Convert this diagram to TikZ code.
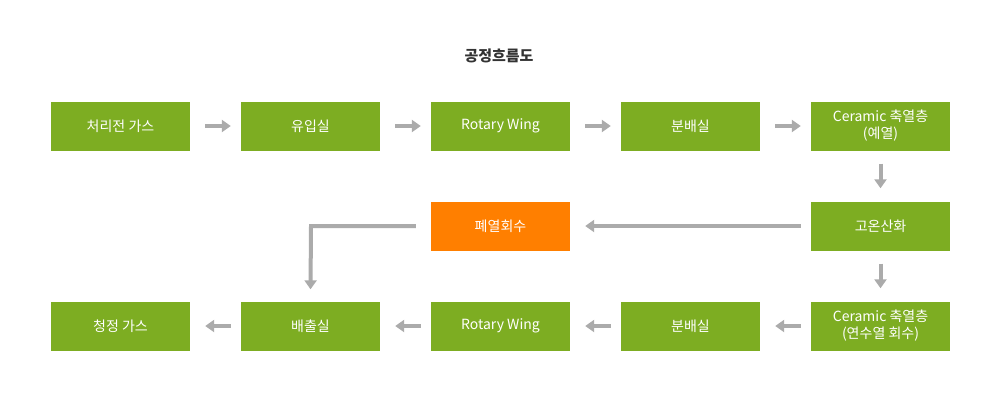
\documentclass[tikz,border=0pt]{standalone}
\usepackage{fontspec}
\setmainfont{Noto Sans CJK KR}
\usetikzlibrary{arrows.meta}
\definecolor{boxgreen}{HTML}{7DAD22}
\definecolor{boxorange}{HTML}{FF7F00}
\definecolor{arrgray}{HTML}{ABABAB}
\definecolor{titlegray}{HTML}{333333}
\tikzset{
  stepbox/.style={fill=boxgreen, draw=none, minimum width=139pt, minimum height=49pt, inner sep=0pt,
    text=white, font=\fontsize{14pt}{17pt}\selectfont, align=center},
  hotbox/.style={stepbox, fill=boxorange},
  flow/.style={draw=arrgray, line width=4pt, -{Triangle[length=9pt,width=12pt]}},
}
\begin{document}
\begin{tikzpicture}[x=1pt,y=-1pt]
\useasboundingbox (0,0) rectangle (1000,400);
\node[text=titlegray, font=\fontsize{15pt}{17pt}\selectfont\bfseries] (title) at (499,56) {공정흐름도};
% top row
\node[stepbox] (a1) at (120.5,126) {처리전 가스};
\node[stepbox] (a2) at (310.5,126) {유입실};
\node[stepbox] (a3) at (500.5,126) {Rotary Wing};
\node[stepbox] (a4) at (690.5,126) {분배실};
\node[stepbox] (a5) at (880.5,126) {Ceramic 축열층\\(예열)};
% middle row
\node[hotbox] (m1) at (500.5,226) {폐열회수};
\node[stepbox] (m2) at (880.5,226) {고온산화};
% bottom row
\node[stepbox] (b1) at (120.5,326) {청정 가스};
\node[stepbox] (b2) at (310.5,326) {배출실};
\node[stepbox] (b3) at (500.5,326) {Rotary Wing};
\node[stepbox] (b4) at (690.5,326) {분배실};
\node[stepbox] (b5) at (880.5,326) {Ceramic 축열층\\(연수열 회수)};
% arrows top
\draw[flow] ([xshift=15pt]a1.east) -- ([xshift=-10pt]a2.west);
\draw[flow] ([xshift=15pt]a2.east) -- ([xshift=-10pt]a3.west);
\draw[flow] ([xshift=15pt]a3.east) -- ([xshift=-10pt]a4.west);
\draw[flow] ([xshift=15pt]a4.east) -- ([xshift=-10pt]a5.west);
% down arrows
\draw[flow] ([yshift=-13pt]a5.south) -- ([yshift=13pt]m2.north);
\draw[flow] ([yshift=-13pt]m2.south) -- ([yshift=13pt]b5.north);
% long arrow
\draw[flow] ([xshift=-10pt]m2.west) -- ([xshift=15pt]m1.east);
% bent arrow
\coordinate (bend) at (311,226);
\draw[flow] ([xshift=-15pt]m1.west) -- (bend) -- ([yshift=12pt]b2.north);
% bottom arrows
\draw[flow] ([xshift=-10pt]b5.west) -- ([xshift=15pt]b4.east);
\draw[flow] ([xshift=-10pt]b4.west) -- ([xshift=15pt]b3.east);
\draw[flow] ([xshift=-10pt]b3.west) -- ([xshift=15pt]b2.east);
\draw[flow] ([xshift=-10pt]b2.west) -- ([xshift=15pt]b1.east);
\end{tikzpicture}
\end{document}
